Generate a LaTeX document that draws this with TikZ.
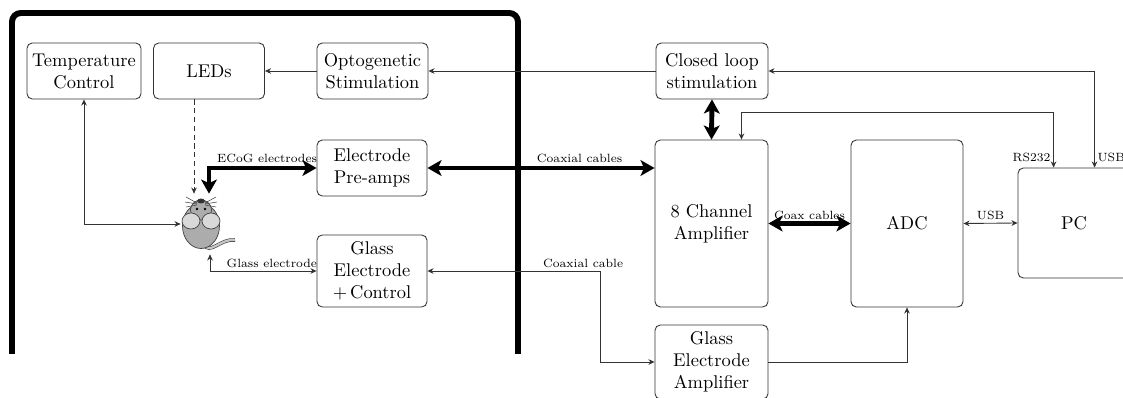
\documentclass[tikz,border=0pt]{standalone}
\usepackage{tikz}
\usetikzlibrary{arrows.meta,calc}
\tikzset{
  block/.style={draw=black!80,line width=0.5pt,rounded corners=3pt,align=center,
    minimum width=2.24cm,minimum height=1.12cm,inner sep=1pt,
    font=\fontsize{10.5}{12.5}\selectfont},
  link/.style={draw=black!80,line width=0.5pt},
  optic/.style={link,dash pattern=on 3pt off 2pt},
  cable/.style={line width=2.8pt,
    {Stealth[length=8pt,width=9pt,inset=2pt]}-{Stealth[length=8pt,width=9pt,inset=2pt]}},
  lbl/.style={font=\fontsize{6.8}{8.5}\selectfont,inner sep=1.5pt},
  wall/.style={line width=3.4pt,rounded corners=5pt}
}

\begin{document}
\begin{tikzpicture}[x=0.02cm,y=-0.02cm,>={Stealth[length=3.5pt,width=3.2pt]}]
  \useasboundingbox (0,0) rectangle (1123,398);
  \clip (0,0) rectangle (1123,398);

  % enclosure
  \draw[wall] (12,354) -- (12,13) -- (518,13) -- (518,354);

  % blocks
  \node[block,minimum width=2.28cm] (temp) at (84,71) {Temperature\\Control};
  \node[block,minimum width=2.22cm] (leds) at (209,71) {LEDs};
  \node[block,minimum width=2.22cm] (opto) at (372.5,71) {Optogenetic\\Stimulation};
  \node[block] (closed) at (712,71) {Closed loop\\stimulation};
  \node[block,minimum width=2.2cm] (preamps) at (372,168) {Electrode\\Pre-amps};
  \node[block,minimum width=2.2cm,minimum height=1.44cm] (glassctl) at (372,271)
    {Glass\\Electrode\\+\,Control};
  \node[block,minimum width=2.26cm,minimum height=3.34cm] (amp) at (711.5,223.5)
    {8 Channel\\Amplifier};
  \node[block,minimum height=3.34cm] (adc) at (907,223.5) {ADC};
  \node[block,minimum height=2.2cm] (pc) at (1074,223) {PC};
  \node[block,minimum width=2.26cm,minimum height=1.48cm] (glassamp) at (711.5,362)
    {Glass\\Electrode\\Amplifier};

  % the mouse
  \node[minimum width=0.8cm,minimum height=1.2cm,inner sep=0pt] (mouse) at (201,224) {};
  \begin{scope}[shift={(mouse.center)},draw=black!75,line width=0.4pt]
    \draw[double=gray!45,double distance=1.3pt,line width=0.35pt]
      (3,20) .. controls (8,32) and (20,14) .. (34,16);
    \draw[fill=gray!65] (0,2) ellipse [x radius=0.37cm,y radius=0.45cm];
    \draw[fill=gray!65] (0,-14) ellipse [x radius=0.21cm,y radius=0.2cm];
    \draw[fill=gray!30] (-10,-3) ellipse [x radius=0.18cm,y radius=0.16cm];
    \draw[fill=gray!30] (10,-3) ellipse [x radius=0.18cm,y radius=0.16cm];
    \fill[black] (-4,-15) circle [radius=0.8pt] (4,-15) circle [radius=0.8pt];
    \fill[black!80] (0,-23) ellipse [x radius=2.2pt,y radius=1.4pt];
    \foreach \s in {-1,1} {
      \draw[line width=0.3pt] (\s*4,-21) -- (\s*15,-27)
        (\s*4,-20) -- (\s*16,-22) (\s*4,-19) -- (\s*15,-17);
    }
  \end{scope}
  \coordinate (beam) at ($(leds.south)+(-15,0)$);

  % signals
  \draw[link,->] (closed.west) -- (opto.east);
  \draw[link,->] (opto.west) -- (leds.east);
  \draw[optic,->] (beam) -- (beam |- mouse.north);
  \draw[link,<->] (temp.south) |- (mouse.west);
  \draw[cable] ($(mouse.north)+(8,0)$) |- node[lbl,pos=0.77,above]{ECoG electrodes} (preamps.west);
  \draw[link,<->] ($(mouse.south)+(9,0)$) |- node[lbl,pos=0.79,above]{Glass electrode} (glassctl.west);
  \draw[cable] (preamps.east) -- node[lbl,pos=0.67,above]{Coaxial cables} (preamps.east -| amp.west);
  \draw[link,<->] (glassctl.east) -- node[lbl,pos=0.9,above]{Coaxial cable} ++(173,0) |- (glassamp.west);
  \draw[cable] (closed.south) -- (amp.north);
  \draw[cable] (amp.east) -- node[lbl,above,inner sep=0.5pt]{Coax cables} (adc.west);
  \draw[link,->] (glassamp.east) -| (adc.south);
  \draw[link,<->] (adc.east) -- node[lbl,above]{USB} (pc.west);
  \draw[link,<->] ($(amp.north)+(30,0)$) -- ++(0,-27) -| node[lbl,pos=0.91,left]{RS232}
    ($(pc.north west)+(36,0)$);
  \draw[link,<->] ($(pc.north west)+(77,0)$) |- node[lbl,pos=0.05,right]{USB} (closed.east);
\end{tikzpicture}
\end{document}
